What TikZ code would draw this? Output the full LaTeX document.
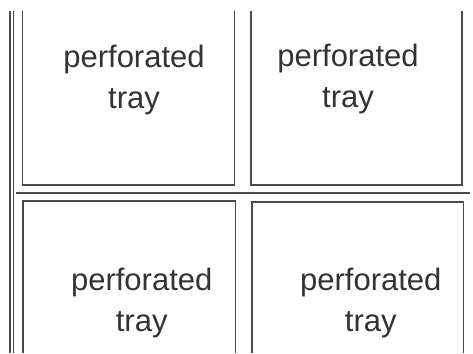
\documentclass[tikz,border=0pt]{standalone}
\usepackage{fontspec}
\setmainfont{Liberation Sans}
\definecolor{edge}{HTML}{4A4A4A}
\definecolor{ink}{HTML}{333333}
\begin{document}
\begin{tikzpicture}[x=1pt,y=-1pt,
  wall/.style={draw=edge,line width=1.7pt},
  label/.style={text=ink,align=center,anchor=base,inner sep=0pt,
    font=\fontsize{31}{41}\selectfont}]
\useasboundingbox[fill=white] (0,0) rectangle (473,353);
% left double wall
\draw[wall,line width=1.3pt] (10,11) -- (10,353);
\draw[wall,line width=1.3pt] (13.7,11) -- (13.7,353);
% shelf divider
\draw[wall,line width=2pt] (16,193) -- (470,193);
% trays (open at top / bottom)
\draw[wall] (22.5,11) -- (22.5,185) -- (234.5,185) -- (234.5,11);
\draw[wall] (251,11) -- (251,185) -- (462,185) -- (462,11);
\draw[wall] (23,353) -- (23,201) -- (235.5,201) -- (235.5,353);
\draw[wall] (252,353) -- (252,202) -- (463.5,202) -- (463.5,353);
% labels (anchor = baseline of last line)
\node[label] (tl) at (134,108.5) {perforated\\tray};
\node[label] (tr) at (348,107.5) {perforated\\tray};
\node[label] (bl) at (141.7,331.5) {perforated\\tray};
\node[label] (br) at (370.8,331.5) {perforated\\tray};
\end{tikzpicture}
\end{document}
